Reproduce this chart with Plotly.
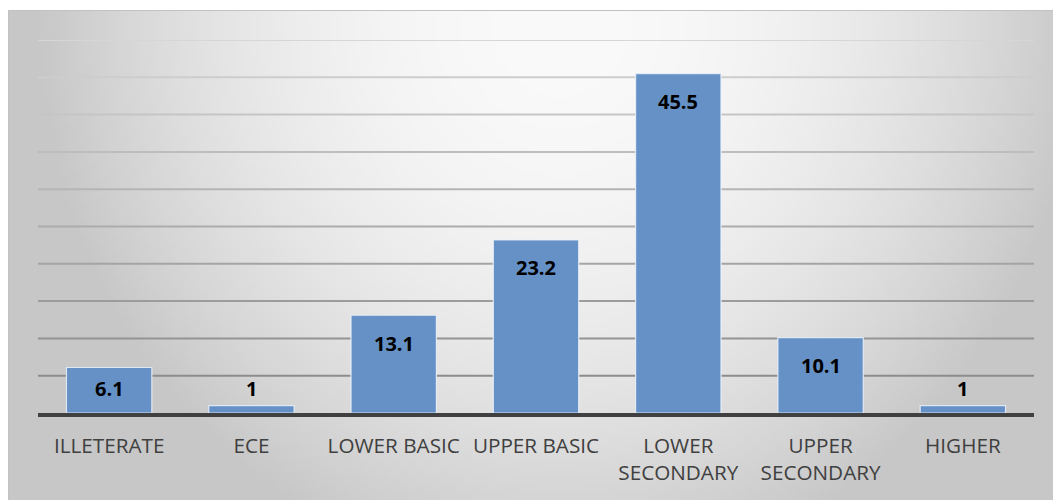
import base64, struct, zlib
import numpy as np
import plotly.graph_objects as go

# ---------------- data ----------------
categories = ["ILLETERATE", "ECE", "LOWER BASIC", "UPPER BASIC",
              "LOWER<br>SECONDARY", "UPPER<br>SECONDARY", "HIGHER"]
values = [6.1, 1, 13.1, 23.2, 45.5, 10.1, 1]
grid_values = [5, 10, 15, 20, 25, 30, 35, 40, 45, 50]

# ---------------- geometry ----------------
W, H = 1053, 500
ML, MR, MT, MB = 38, 19, 40, 87
PW, PH = W - ML - MR, H - MT - MB
FX0, FY0 = 8, 10  # frame top-left in px


def px_to_paper_x(px):
    return (px - ML) / PW


def px_to_paper_y(py):
    return (H - MB - py) / PH


# ---------------- background gradient image ----------------
def gradient_png(w, h, scale):
    ys, xs = np.mgrid[0:h, 0:w]
    fx = FX0 + (xs + 0.5) * scale
    fy = FY0 + (ys + 0.5) * scale
    dx = (fx - 560) / 520.0
    dy = (fy - 20) / 560.0
    r = np.sqrt(dx ** 2 + dy ** 2)
    c = 250 - 50 * np.minimum(r, 1.12) ** 2
    c = np.clip(c, 199, 250).astype(np.uint8)
    rgb = np.stack([c, c, c], axis=-1)
    raw = b"".join(b"\x00" + rgb[y].tobytes() for y in range(h))

    def chunk(tag, data):
        ch = struct.pack(">I", len(data)) + tag + data
        return ch + struct.pack(">I", zlib.crc32(tag + data) & 0xffffffff)

    png = b"\x89PNG\r\n\x1a\n"
    png += chunk(b"IHDR", struct.pack(">IIBBBBB", w, h, 8, 2, 0, 0, 0))
    png += chunk(b"IDAT", zlib.compress(raw, 9))
    png += chunk(b"IEND", b"")
    return "data:image/png;base64," + base64.b64encode(png).decode()


scale = 5
img_w = int(np.ceil((W - FX0) / scale))
img_h = int(np.ceil((H - FY0) / scale))
bg_src = gradient_png(img_w, img_h, scale)

# ---------------- figure ----------------
fig = go.Figure()
fig.add_trace(go.Bar(
    x=categories, y=values,
    marker=dict(color="#6591C6", line=dict(color="rgba(235,242,250,0.85)", width=1.2)),
    width=0.6,
    hoverinfo="skip",
))

# data labels
annotations = []
for cat, v in zip(categories, values):
    if v < 3:
        shift = 17
    elif v < 8:
        shift = -21
    else:
        shift = -28
    annotations.append(dict(
        x=cat, y=v, xref="x", yref="y", text=f"{v:g}", showarrow=False,
        yanchor="middle", yshift=shift,
        font=dict(family="Open Sans", size=20, color="#000000", weight="bold"),
    ))

# gridlines with vertical shading
shapes = []
g0, g1 = 140, 214
for gv in grid_values:
    t = (gv - grid_values[0]) / (grid_values[-1] - grid_values[0])
    g = int(g0 + (g1 - g0) * t)
    shapes.append(dict(
        type="line", xref="paper", yref="y", x0=0, x1=1, y0=gv, y1=gv,
        line=dict(color=f"rgb({g},{g},{g})", width=2), layer="below",
    ))

# frame border
shapes.append(dict(
    type="rect", xref="paper", yref="paper",
    x0=px_to_paper_x(FX0 + 0.5), x1=px_to_paper_x(W + 2),
    y0=px_to_paper_y(H + 2), y1=px_to_paper_y(FY0 + 0.5),
    line=dict(color="#C2C2C2", width=1), fillcolor="rgba(0,0,0,0)", layer="below",
))

fig.update_layout(
    width=W, height=H,
    margin=dict(l=ML, r=MR, t=MT, b=MB, pad=0),
    paper_bgcolor="#FFFFFF",
    plot_bgcolor="rgba(0,0,0,0)",
    showlegend=False,
    bargap=0.4,
    annotations=annotations,
    shapes=shapes,
    images=[dict(
        source=bg_src, xref="paper", yref="paper",
        x=px_to_paper_x(FX0), y=px_to_paper_y(FY0),
        sizex=(W - FX0) / PW, sizey=(H - FY0) / PH,
        xanchor="left", yanchor="top", sizing="stretch", layer="below",
    )],
    xaxis=dict(
        showgrid=False, zeroline=False, showline=True,
        linecolor="#404040", linewidth=3.5, ticks="",
        tickfont=dict(family="Open Sans", size=20.7, color="#404040"),
        ticklabelstandoff=11,
    ),
    yaxis=dict(
        range=[0, 50], showgrid=False, zeroline=False, showline=False,
        showticklabels=False, ticks="",
    ),
)

fig.write_html("out.html")
